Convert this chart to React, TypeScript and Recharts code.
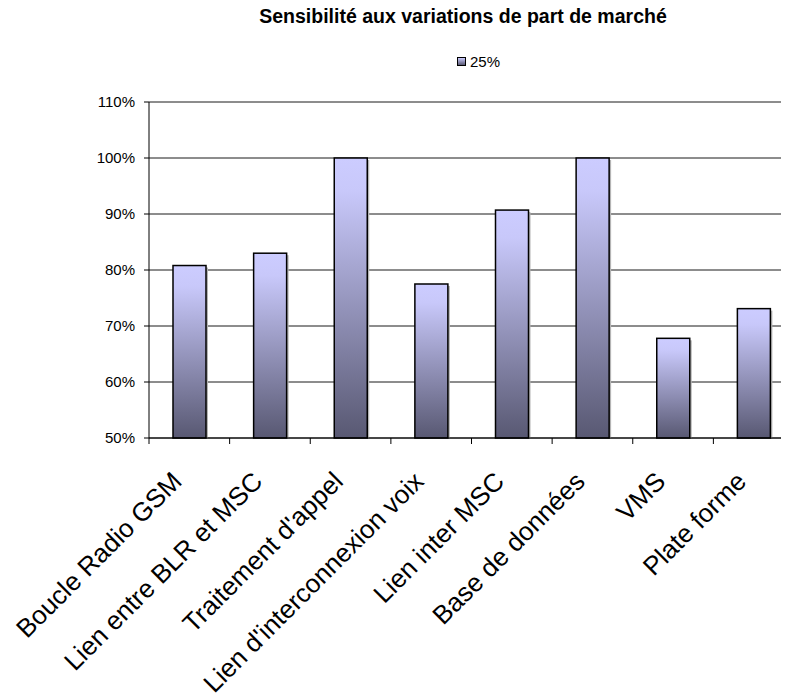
import { Bar, BarChart, CartesianGrid, XAxis, YAxis } from "recharts"

// market share sensitivity per network element
const categories = [
  "Boucle Radio GSM",
  "Lien entre BLR et MSC",
  "Traitement d'appel",
  "Lien d'interconnexion voix",
  "Lien inter MSC",
  "Base de données",
  "VMS",
  "Plate forme",
]
const share25 = [80.8, 83.0, 100, 77.5, 90.7, 100, 67.8, 73.1]
const yTicks = [50, 60, 70, 80, 90, 100, 110]
const seriesName = "25%"
const title = "Sensibilité aux variations de part de marché"

const data = categories.map((name, i) => ({ name, value: share25[i] }))

const CHART_W = 800
const CHART_H = 689
const MARGIN = { top: 94, right: 14, left: 81, bottom: 0 }
const YAXIS_W = 60
const XAXIS_H = 259
const AXIS_Y = CHART_H - MARGIN.bottom - XAXIS_H
const BAND = (CHART_W - MARGIN.left - MARGIN.right - YAXIS_W) / categories.length

const FONT = '"Liberation Sans", Arial, sans-serif'

function ShadowBar(props: any) {
  const { x, y, width, height } = props
  if (!height || height <= 0) return null
  return (
    <g>
      <rect x={x + 2} y={y + 2} width={width} height={Math.max(height - 2, 0)} fill="#b4b4b4" />
      <rect x={x} y={y} width={width} height={height} fill="url(#barFill)" stroke="#000" strokeWidth={1.5} />
    </g>
  )
}

// ticks sit between categories, labels are slanted under each bar
function CategoryTick(props: any) {
  const { x, payload, index } = props
  const left = x - BAND / 2
  return (
    <g>
      <line x1={left} x2={left} y1={AXIS_Y} y2={AXIS_Y + 6} stroke="#000" />
      {index === categories.length - 1 && (
        <line x1={x + BAND / 2} x2={x + BAND / 2} y1={AXIS_Y} y2={AXIS_Y + 6} stroke="#000" />
      )}
      <text
        x={0}
        y={0}
        transform={`translate(${x - 6},${AXIS_Y + 45}) rotate(-45)`}
        textAnchor="end"
        fontSize={26}
        fill="#000"
        fontFamily={FONT}
      >
        {payload.value}
      </text>
    </g>
  )
}

export default function App() {
  return (
    <div
      style={{
        position: "relative",
        marginTop: -8,
        width: 781,
        height: CHART_H + 8,
        overflow: "hidden",
        fontFamily: FONT,
      }}
    >
      <div
        style={{
          position: "absolute",
          top: 5,
          left: 205,
          width: 500,
          textAlign: "center",
          fontWeight: "bold",
          fontSize: 19.5,
          color: "#000",
          whiteSpace: "nowrap",
        }}
      >
        {title}
      </div>
      <div
        style={{
          position: "absolute",
          top: 53,
          left: 449,
          display: "flex",
          alignItems: "center",
          fontSize: 15,
          color: "#000",
        }}
      >
        <span
          style={{
            display: "inline-block",
            width: 7,
            height: 7,
            border: "1px solid #000",
            background: "linear-gradient(#ccccff, #585872)",
            marginRight: 4,
          }}
        />
        {seriesName}
      </div>
      <div style={{ position: "absolute", top: 8, left: 0 }}>
        <BarChart width={CHART_W} height={CHART_H} data={data} margin={MARGIN}>
          <defs>
            <linearGradient id="barFill" x1="0" y1="0" x2="0" y2="1">
              <stop offset="0%" stopColor="#ccccff" />
              <stop offset="12%" stopColor="#c8c8fa" />
              <stop offset="100%" stopColor="#585872" />
            </linearGradient>
          </defs>
          <CartesianGrid vertical={false} stroke="#1a1a1a" />
          <XAxis
            dataKey="name"
            height={XAXIS_H}
            interval={0}
            tickLine={false}
            axisLine={{ stroke: "#000" }}
            tick={<CategoryTick />}
          />
          <YAxis
            width={YAXIS_W}
            domain={[50, 110]}
            ticks={yTicks}
            tickFormatter={(v) => `${v}%`}
            tickSize={5}
            tickMargin={9}
            axisLine={{ stroke: "#000" }}
            tickLine={{ stroke: "#000" }}
            tick={{ fill: "#000", fontSize: 15, fontFamily: FONT }}
          />
          <Bar dataKey="value" barSize={33} shape={<ShadowBar />} isAnimationActive={false} />
        </BarChart>
      </div>
    </div>
  )
}
